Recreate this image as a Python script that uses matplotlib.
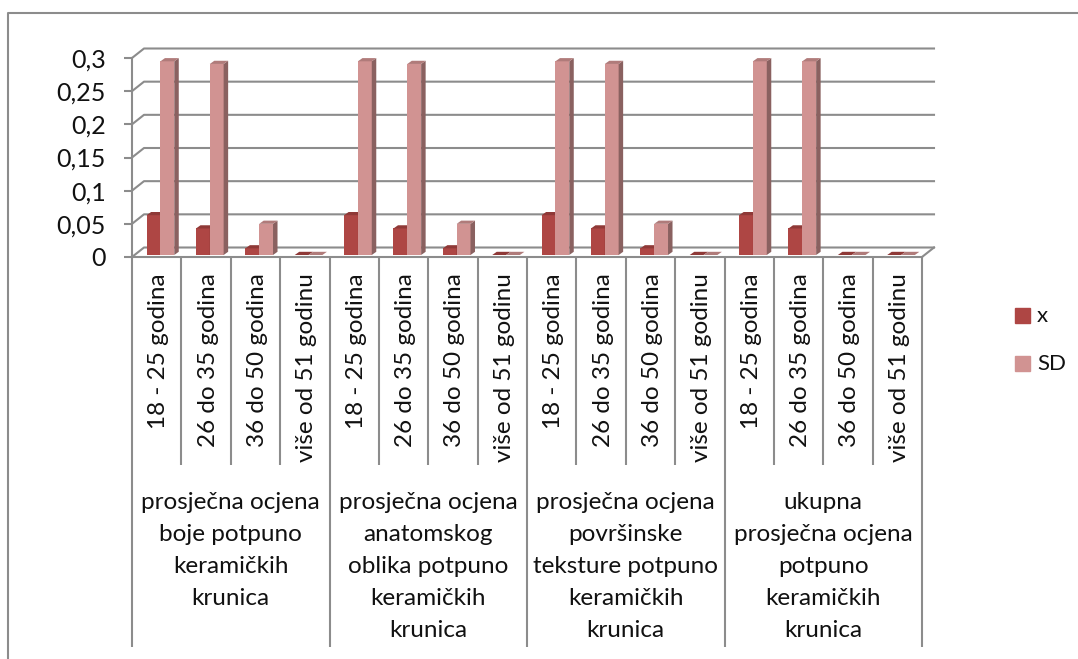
import matplotlib
matplotlib.use("Agg")
import matplotlib.pyplot as plt
from matplotlib.patches import Rectangle

plt.rcParams['font.family'] = ['Lato', 'DejaVu Sans']

# data
edades = ["18 - 25 godina", "26 do 35 godina", "36 do 50 godina", "više od 51 godinu"]
grupos = ["prosječna ocjena\nboje potpuno\nkeramičkih\nkrunica",
          "prosječna ocjena\nanatomskog\noblika potpuno\nkeramičkih\nkrunica",
          "prosječna ocjena\npovršinske\nteksture potpuno\nkeramičkih\nkrunica",
          "ukupna\nprosječna ocjena\npotpuno\nkeramičkih\nkrunica"]
x_vals = [0.06, 0.04, 0.01, 0, 0.06, 0.04, 0.01, 0, 0.06, 0.04, 0.01, 0, 0.06, 0.04, 0, 0]
sd_vals = [0.292, 0.288, 0.047, 0, 0.292, 0.288, 0.047, 0, 0.292, 0.288, 0.047, 0, 0.292, 0.292, 0, 0]
y_ticks = [0, 0.05, 0.1, 0.15, 0.2, 0.25, 0.3]
y_labels = ["0", "0,05", "0,1", "0,15", "0,2", "0,25", "0,3"]

W, H = 1078, 659
gris = "#8c8c8c"
fig = plt.figure(figsize=(W / 100, H / 100), dpi=100)

# the front plane of the fake 3d box: x 132-922 px, y 58-257 px
ax = fig.add_axes([132 / W, 1 - 257 / H, 790 / W, 199 / H])
ax.set_xlim(0, 16)
ax.set_ylim(0, 0.3)
ax.patch.set_alpha(0)
px = 16 / 790
py = 0.3 / 199

# back wall and floor
dx, dy = 12 * px, 9.5 * py
for t in y_ticks:
    ax.plot([0, dx, 16 + dx], [t, t + dy, t + dy], color=gris, lw=1.5, clip_on=False, zorder=1)
ax.plot([16, 16 + dx], [0, dy], color=gris, lw=1.5, clip_on=False, zorder=1)

# bars, with side and top faces for the 3d look
base = 2 * py
ancho = 0.28
prof_x, prof_y = 4.5 * px, 3.2 * py
series = [(x_vals, 0.436, "#AE4644", "#7E3331", "#8F3937"),
          (sd_vals, 0.716, "#D19392", "#8A6160", "#B07B7A")]
for vals, off, frente, lado, tapa in series:
    for i, v in enumerate(vals):
        x0 = i + off - ancho / 2
        x1 = x0 + ancho
        top = base + v
        ax.bar(i + off, v, ancho, bottom=base, color=frente, zorder=3, clip_on=False)
        if v > 0:
            ax.fill([x1, x1 + prof_x, x1 + prof_x, x1],
                    [base, base + prof_y, top + prof_y, top],
                    color=lado, lw=0, zorder=3, clip_on=False)
        ax.fill([x0, x0 + prof_x, x1 + prof_x, x1],
                [top, top + prof_y, top + prof_y, top],
                color=tapa, lw=0, zorder=3, clip_on=False)

# axes
for s in ["top", "right"]:
    ax.spines[s].set_visible(False)
for s in ["left", "bottom"]:
    ax.spines[s].set_color(gris)
    ax.spines[s].set_linewidth(1.5)
ax.set_yticks(y_ticks)
ax.set_yticklabels(y_labels, fontsize=18, color="#111111")
ax.tick_params(axis="y", length=6, width=1.5, color=gris, pad=13)
ax.set_xticks(range(0, 17, 4))
ax.set_xticks([i for i in range(17) if i % 4], minor=True)
ax.set_xticklabels([])
ax.tick_params(axis="x", which="major", length=281, width=1.5, color=gris)
ax.tick_params(axis="x", which="minor", length=150, width=1.5, color=gris)

# category labels
trans = ax.get_xaxis_transform()
for i in range(16):
    ax.text(i + 0.54, -16 / 199, edades[i % 4], transform=trans, rotation=90,
            ha="center", va="top", fontsize=17.5, color="#111111", clip_on=False)
for i, g in enumerate(grupos):
    ax.text(i * 4 + 2, -235 / 199, g, transform=trans, ha="center", va="top",
            fontsize=17.5, color="#111111", linespacing=1.64, clip_on=False)

# legend
fig.patches.append(Rectangle((1015 / W, 1 - 323 / H), 15 / W, 15 / H, transform=fig.transFigure, color="#AE4644"))
fig.patches.append(Rectangle((1015 / W, 1 - 371 / H), 15 / W, 15 / H, transform=fig.transFigure, color="#D19392"))
fig.text(1037 / W, 1 - 316 / H, "x", fontsize=16, va="center", color="#111111")
fig.text(1037 / W, 1 - 364 / H, "SD", fontsize=16, va="center", color="#111111")

# chart frame, only left and top are in the crop
fig.add_artist(plt.Line2D([7.5 / W, 7.5 / W, 1], [0, 1 - 12.5 / H, 1 - 12.5 / H], color=gris, lw=1.5))

fig.savefig("out.png", dpi=100)
